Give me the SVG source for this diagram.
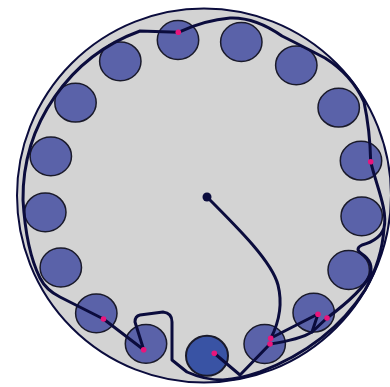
<svg xmlns="http://www.w3.org/2000/svg" width="390" height="387" viewBox="0 0 390 387">
<style>
.well{fill:#5a62a9;stroke:#1a1a2a;stroke-width:1.5}
.well.dark{fill:#3953a4;stroke-width:2}
.route{fill:none;stroke:#0b0c3d;stroke-width:3;stroke-linejoin:round;stroke-linecap:round}
.pt{fill:#e8157c}
</style>
<rect width="390" height="387" fill="#ffffff"/>
<g id="plate">
<circle cx="204" cy="195.5" r="187" fill="#d3d3d3" stroke="#0b0c3d" stroke-width="2"/>
</g>
<g id="wells">
<g id="w1"><ellipse class="well" cx="178" cy="40" rx="20.7" ry="19.4"/></g>
<g id="w2"><ellipse class="well" cx="241.3" cy="42" rx="20.7" ry="19.4"/></g>
<g id="w3"><ellipse class="well" cx="296.3" cy="65.3" rx="20.7" ry="19.4"/></g>
<g id="w4"><ellipse class="well" cx="338.7" cy="107.7" rx="20.7" ry="19.4"/></g>
<g id="w5"><ellipse class="well" cx="361" cy="160.7" rx="20.7" ry="19.4"/></g>
<g id="w6"><ellipse class="well" cx="361.7" cy="216.3" rx="20.7" ry="19.4"/></g>
<g id="w7"><ellipse class="well" cx="348.7" cy="270" rx="20.7" ry="19.4"/></g>
<g id="w8"><ellipse class="well" cx="313.7" cy="312.7" rx="20.7" ry="19.4"/></g>
<g id="w9"><ellipse class="well" cx="264.7" cy="344" rx="20.7" ry="19.4"/></g>
<g id="w10"><ellipse class="well dark" cx="207" cy="355.8" rx="21" ry="20"/></g>
<g id="w11"><ellipse class="well" cx="146" cy="343.8" rx="20.7" ry="19.4"/></g>
<g id="w12"><ellipse class="well" cx="96.3" cy="313.3" rx="20.7" ry="19.4"/></g>
<g id="w13"><ellipse class="well" cx="60.8" cy="267.5" rx="20.7" ry="19.4"/></g>
<g id="w14"><ellipse class="well" cx="45.3" cy="212.3" rx="20.7" ry="19.4"/></g>
<g id="w15"><ellipse class="well" cx="50.8" cy="156.3" rx="20.7" ry="19.4"/></g>
<g id="w16"><ellipse class="well" cx="75.5" cy="102.7" rx="20.7" ry="19.4"/></g>
<g id="w17"><ellipse class="well" cx="120.3" cy="61.3" rx="20.7" ry="19.4"/></g>
</g>
<g id="connectors">
<path class="route" d="M207,197 C240,230 272,262 278,285 C283,305 279,322 271,338 L318,314 L312,332"/>
<path class="route" d="M270,344 C290,341 304,337 312,332 L327,318"/>
<path class="route" d="M270,344 L240,375 L214,353"/>
<path class="route" d="M327,318 Q362,292 370,275 Q374,262 362,254 Q354,249 362,245 Q380,240 384,228 C388,210 376,185 370.7,161.7 Q370,130 364,102 Q352,75 325,58 Q300,45 282,36 Q255,17 230,18 Q205,20 178.3,32.3 L140,31 A178,178 0 0 0 23,200 Q26,250 40,278 Q46,290 60,297 L103.5,319 L143.7,349.7 L135,322 Q135,316 140,315 L163,312 Q172,313 172,322 L172,360 L187,372 Q205,380 223,380 Q240,379 260,372 Q330,345 365,290 Q382,260 384,228"/>
</g>
<g id="points">
<circle cx="207" cy="197" r="4.5" fill="#0b0c3d"/>
<circle class="pt" cx="178.3" cy="32.3" r="2.8"/>
<circle class="pt" cx="370.7" cy="161.7" r="2.8"/>
<circle class="pt" cx="318" cy="314.3" r="2.8"/>
<circle class="pt" cx="327" cy="318" r="2.8"/>
<circle class="pt" cx="270.7" cy="338.3" r="2.8"/>
<circle class="pt" cx="270" cy="344" r="2.8"/>
<circle class="pt" cx="214.3" cy="353.3" r="2.8"/>
<circle class="pt" cx="143.7" cy="349.7" r="2.8"/>
<circle class="pt" cx="103.5" cy="319" r="2.8"/>
</g>
</svg>
